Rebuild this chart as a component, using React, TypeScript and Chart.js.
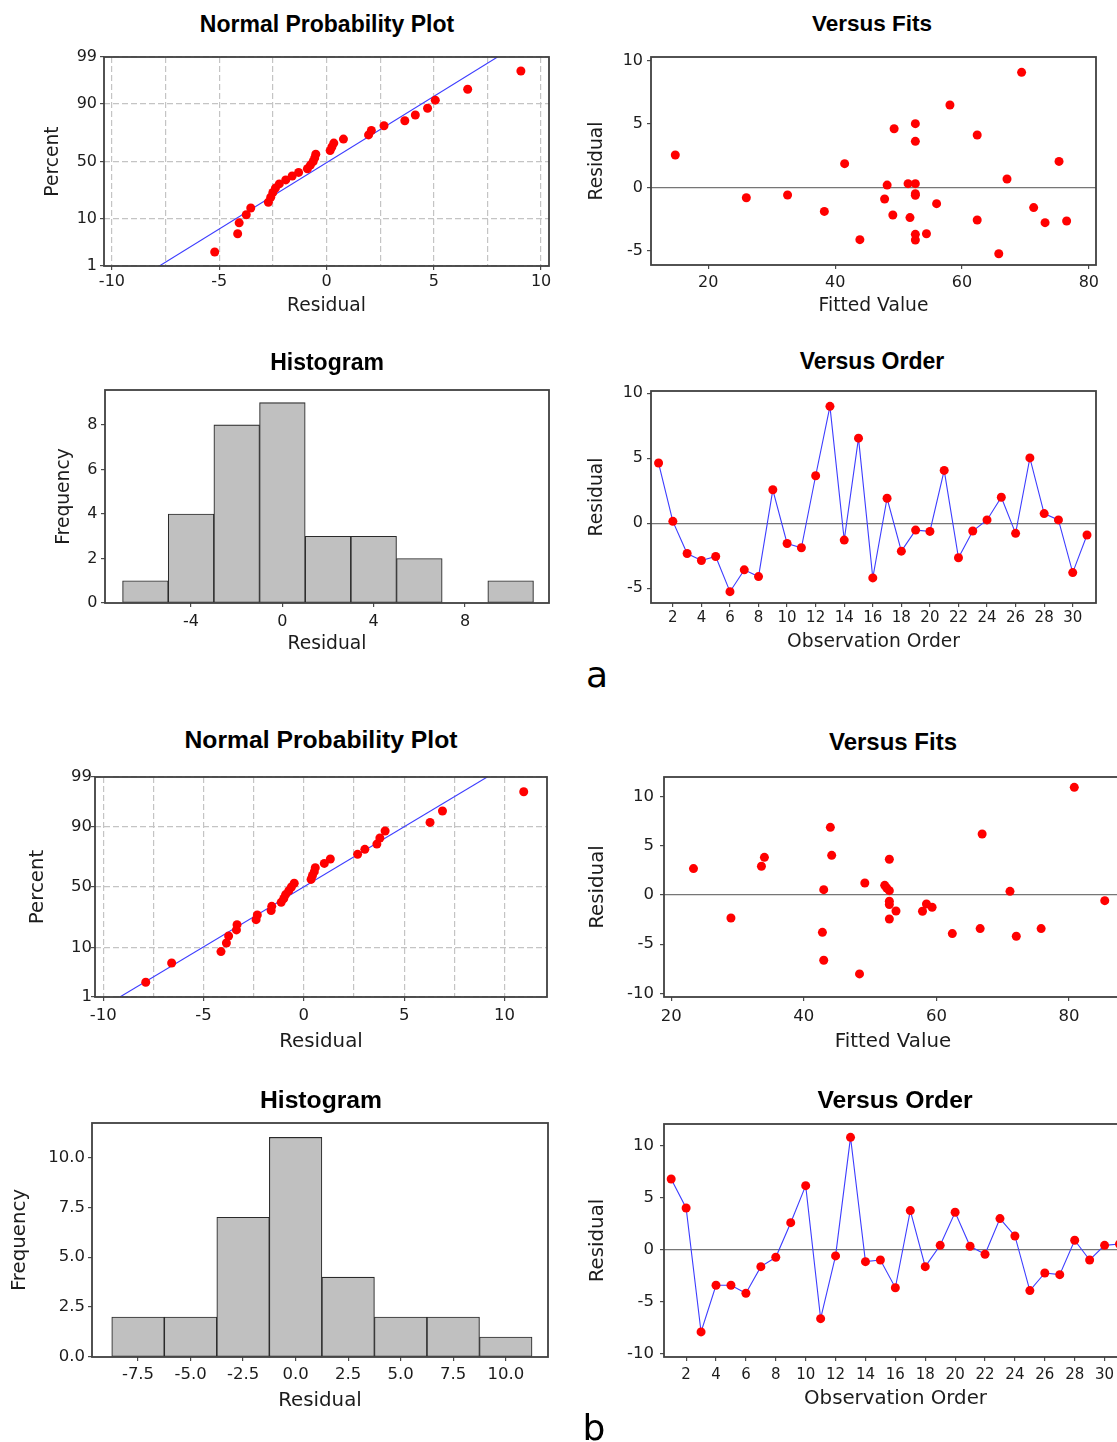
import React, { useEffect, useRef } from "react";
import { Chart, registerables } from "chart.js";

Chart.register(...registerables);

const SANS = '"DejaVu Sans", sans-serif';
const BOLD = '"Liberation Sans", Arial, sans-serif';
const TEXT = "#1c1c1c";
const TICK = "#4a4a4a";
const RED = "#ff0000";
const BLUE = "#3d3dff";
const CLEAR = "rgba(0,0,0,0)";
const DOT = 4.5;

Chart.defaults.font.family = SANS;

// ---------------- data ----------------
// normal probability plot: plotting percent of each sorted residual
const nppPercent = [2.2, 5.4, 8.6, 11.8, 15.0, 18.2, 21.3, 24.5, 27.7, 30.9, 34.1, 37.3, 40.4, 43.6, 46.8, 50.0, 53.2, 56.4, 59.6, 62.7, 65.9, 69.1, 72.3, 75.5, 78.7, 81.8, 85.0, 88.2, 91.4, 94.6, 97.8];
const nppPercentTicks = [1, 10, 50, 90, 99];
const nppResidualTicks = [-10, -7.5, -5, -2.5, 0, 2.5, 5, 7.5, 10];

const nppAResidual = [-5.21, -4.14, -4.07, -3.74, -3.53, -2.71, -2.6, -2.5, -2.38, -2.2, -1.9, -1.6, -1.3, -0.89, -0.75, -0.62, -0.55, -0.5, 0.17, 0.25, 0.34, 0.79, 1.96, 2.09, 2.68, 3.65, 4.14, 4.71, 5.07, 6.58, 9.06];
const nppAFitResidual = [-7.79, 7.97];
const nppAFitPercent = [1, 99];

const nppBResidual = [-7.88, -6.59, -4.13, -3.86, -3.75, -3.36, -3.33, -2.38, -2.32, -1.63, -1.6, -1.13, -1.0, -0.91, -0.75, -0.62, -0.48, 0.36, 0.43, 0.52, 0.57, 1.02, 1.32, 2.68, 3.04, 3.64, 3.79, 4.05, 6.29, 6.91, 10.96];
const nppBFitResidual = [-9.17, 9.14];
const nppBFitPercent = [1, 99];

// versus fits
const fitsAFitted = [14.8, 26.0, 32.5, 38.3, 41.5, 43.9, 47.8, 48.2, 49.1, 49.3, 51.5, 51.8, 52.65, 52.65, 52.65, 52.65, 52.65, 52.65, 52.65, 54.4, 56.0, 58.1, 62.4, 62.4, 65.8, 67.1, 69.4, 71.3, 73.1, 75.3, 76.5];
const fitsAResidual = [2.55, -0.82, -0.6, -1.9, 1.87, -4.13, -0.92, 0.18, -2.18, 4.63, 0.29, -2.39, 0.29, 5.03, 3.63, -0.5, -0.63, -3.71, -4.16, -3.66, -1.29, 6.5, 4.13, -2.58, -5.24, 0.66, 9.08, -1.6, -2.79, 2.05, -2.66];
const fitsBFitted = [23.35, 29.0, 33.6, 34.05, 42.8, 43.0, 43.0, 44.0, 44.2, 48.4, 49.2, 52.2, 52.5, 52.9, 52.9, 52.9, 52.9, 52.9, 53.9, 57.9, 58.5, 59.35, 62.4, 66.6, 66.9, 71.1, 72.05, 75.8, 80.8, 85.4];
const fitsBResidual = [2.68, -2.34, 2.92, 3.83, -3.8, 0.54, -6.64, 6.88, 4.03, -8.03, 1.22, 0.98, 0.71, 0.44, 3.63, -0.64, -0.98, -2.44, -1.63, -1.66, -0.92, -1.25, -3.93, -3.42, 6.2, 0.37, -4.2, -3.42, 10.95, -0.58];
const fittedTicks = [20, 40, 60, 80];
const residualTicksA = [-5, 0, 5, 10];
const residualTicksB = [-10, -5, 0, 5, 10];

// histograms
const histABinCenter = [-6, -4, -2, 0, 2, 4, 6, 8, 10];
const histACount = [1, 4, 8, 9, 3, 3, 2, 0, 1];
const histAXTicks = [-4, 0, 4, 8];
const histAYTicks = [0, 2, 4, 6, 8];
const histBBinCenter = [-7.5, -5, -2.5, 0, 2.5, 5, 7.5, 10];
const histBCount = [2, 2, 7, 11, 4, 2, 2, 1];
const histBXTicks = [-7.5, -5, -2.5, 0, 2.5, 5, 7.5, 10];
const histBYTicks = [0, 2.5, 5, 7.5, 10];

// versus order
const observationOrder = [1, 2, 3, 4, 5, 6, 7, 8, 9, 10, 11, 12, 13, 14, 15, 16, 17, 18, 19, 20, 21, 22, 23, 24, 25, 26, 27, 28, 29, 30, 31];
const orderTicks = [2, 4, 6, 8, 10, 12, 14, 16, 18, 20, 22, 24, 26, 28, 30];
const orderAResidual = [4.64, 0.15, -2.32, -2.86, -2.55, -5.26, -3.58, -4.1, 2.58, -1.55, -1.88, 3.66, 9.0, -1.29, 6.55, -4.2, 1.93, -2.14, -0.52, -0.62, 4.07, -2.65, -0.59, 0.26, 2.01, -0.77, 5.03, 0.75, 0.26, -3.79, -0.9];
const orderBResidual = [6.76, 3.97, -7.95, -3.46, -3.46, -4.23, -1.67, -0.77, 2.56, 6.12, -6.67, -0.64, 10.77, -1.19, -1.03, -3.7, 3.72, -1.67, 0.38, 3.56, 0.29, -0.48, 2.95, 1.28, -3.97, -2.28, -2.44, 0.87, -1.03, 0.38, 0.51];

// ---------------- probability scale transform ----------------
function probit(p: number): number {
  const a = [-39.69683028665376, 220.9460984245205, -275.9285104469687, 138.357751867269, -30.66479806614716, 2.506628277459239];
  const b = [-54.47609879822406, 161.5858368580409, -155.6989798598866, 66.80131188771972, -13.28068155288572];
  const c = [-0.007784894002430293, -0.3223964580411365, -2.400758277161838, -2.549732539343734, 4.374664141464968, 2.938163982698783];
  const d = [0.007784695709041462, 0.3224671290700398, 2.445134137142996, 3.754408661907416];
  const pl = 0.02425;
  if (p < pl) {
    const q = Math.sqrt(-2 * Math.log(p));
    return (((((c[0] * q + c[1]) * q + c[2]) * q + c[3]) * q + c[4]) * q + c[5]) / ((((d[0] * q + d[1]) * q + d[2]) * q + d[3]) * q + 1);
  }
  if (p <= 1 - pl) {
    const q = p - 0.5;
    const r = q * q;
    return ((((((a[0] * r + a[1]) * r + a[2]) * r + a[3]) * r + a[4]) * r + a[5]) * q) / (((((b[0] * r + b[1]) * r + b[2]) * r + b[3]) * r + b[4]) * r + 1);
  }
  const q = Math.sqrt(-2 * Math.log(1 - p));
  return -(((((c[0] * q + c[1]) * q + c[2]) * q + c[3]) * q + c[4]) * q + c[5]) / ((((d[0] * q + d[1]) * q + d[2]) * q + d[3]) * q + 1);
}

// ---------------- layout ----------------
type Geom = {
  L: number; T: number; R: number; B: number;
  yTitleX: number; xTitleY: number;
  axisFont: number; tickFont: number; xTickFont: number;
  yGap: number; xOff: number;
};
type Lay = { left: number; top: number; width: number; height: number; yW: number; xH: number; yTitlePad: number; xTitlePad: number; padR: number };

const PAD_T = 16;
function layoutOf(g: Geom): Lay {
  const lh = g.axisFont * 1.2;
  const left = Math.floor(g.yTitleX - lh / 2);
  const top = g.T - PAD_T;
  const height = Math.ceil(g.xTitleY + lh / 2 - top);
  const width = Math.ceil(g.R + 16 - left);
  return {
    left, top, width, height,
    yW: g.L - left,
    xH: top + height - g.B,
    yTitlePad: g.yTitleX - lh / 2 - left,
    xTitlePad: top + height - lh / 2 - g.xTitleY,
    padR: width - (g.R - left),
  };
}

const gA1: Geom = { L: 104, T: 57, R: 549, B: 266, yTitleX: 53.5, xTitleY: 306, axisFont: 18.7, tickFont: 16, xTickFont: 16, yGap: 7, xOff: 16 };
const gA2: Geom = { L: 651, T: 57, R: 1096, B: 265, yTitleX: 597.6, xTitleY: 306, axisFont: 18.7, tickFont: 16, xTickFont: 16, yGap: 8, xOff: 18 };
const gA3: Geom = { L: 105, T: 390, R: 549, B: 603, yTitleX: 64.5, xTitleY: 644, axisFont: 18.7, tickFont: 16, xTickFont: 16, yGap: 7.5, xOff: 19 };
const gA4: Geom = { L: 651, T: 391, R: 1096, B: 603, yTitleX: 597.6, xTitleY: 641.7, axisFont: 18.7, tickFont: 16, xTickFont: 15, yGap: 8, xOff: 15.5 };
const gB1: Geom = { L: 95, T: 777, R: 547, B: 997, yTitleX: 37.6, xTitleY: 1041.7, axisFont: 19.8, tickFont: 16.5, xTickFont: 16.5, yGap: 3, xOff: 19 };
const gB2: Geom = { L: 664, T: 777, R: 1122, B: 997, yTitleX: 598, xTitleY: 1041.5, axisFont: 19.8, tickFont: 16.5, xTickFont: 16.5, yGap: 10, xOff: 20 };
const gB3: Geom = { L: 92, T: 1123, R: 548, B: 1357, yTitleX: 19.5, xTitleY: 1401, axisFont: 19.8, tickFont: 16.5, xTickFont: 16.5, yGap: 7, xOff: 18 };
const gB4: Geom = { L: 664, T: 1124, R: 1127, B: 1357, yTitleX: 598, xTitleY: 1399, axisFont: 19.8, tickFont: 16.5, xTickFont: 15, yGap: 10, xOff: 18 };

type AxisSpec = {
  min: number; max: number; ticks: number[];
  label: (v: number, i: number) => string; title: string;
  gridColor?: (v: number) => string; dash?: number[]; tickMark?: (v: number) => boolean;
};

function gridOf(s: AxisSpec) {
  return {
    display: true, offset: false, drawTicks: true, tickLength: 4, tickWidth: 1.2, tickBorderDash: [],
    drawOnChartArea: !!s.gridColor,
    lineWidth: 1.2,
    color: (c: any) => (s.gridColor && c.tick ? s.gridColor(c.tick.value) : CLEAR),
    tickColor: (c: any) => (!c.tick || !s.tickMark || s.tickMark(c.tick.value) ? TICK : CLEAR),
  };
}

function xScale(g: Geom, lay: Lay, s: AxisSpec) {
  const tickLh = g.xTickFont * 1.2;
  return {
    type: "linear", position: "bottom", min: s.min, max: s.max, offset: false,
    afterBuildTicks: (sc: any) => { sc.ticks = s.ticks.map((v) => ({ value: v })); },
    afterFit: (sc: any) => { sc.height = lay.xH; },
    ticks: {
      autoSkip: false, maxRotation: 0, minRotation: 0,
      padding: g.xOff - 4 - tickLh / 2, color: TEXT,
      font: { family: SANS, size: g.xTickFont },
      callback: (v: any, i: number) => s.label(Number(v), i),
    },
    grid: gridOf(s),
    border: { display: false, dash: s.dash ?? [] },
    title: { display: true, text: s.title, color: TEXT, font: { family: SANS, size: g.axisFont }, padding: { top: 0, bottom: lay.xTitlePad } },
  };
}

function yScale(g: Geom, lay: Lay, s: AxisSpec) {
  return {
    type: "linear", position: "left", min: s.min, max: s.max,
    afterBuildTicks: (sc: any) => { sc.ticks = s.ticks.map((v) => ({ value: v })); },
    afterFit: (sc: any) => { sc.width = lay.yW; },
    ticks: {
      autoSkip: false, padding: g.yGap - 4, color: TEXT,
      font: { family: SANS, size: g.tickFont },
      callback: (v: any, i: number) => s.label(Number(v), i),
    },
    grid: gridOf(s),
    border: { display: false, dash: s.dash ?? [] },
    title: { display: true, text: s.title, color: TEXT, font: { family: SANS, size: g.axisFont }, padding: { top: lay.yTitlePad, bottom: 0 } },
  };
}

const framePlugin = {
  id: "frame",
  afterDraw(chart: any) {
    const { ctx, chartArea: a } = chart;
    ctx.save();
    ctx.strokeStyle = "#404040";
    ctx.lineWidth = 1.8;
    ctx.strokeRect(a.left, a.top, a.right - a.left, a.bottom - a.top);
    ctx.restore();
  },
};

function baseOptions(lay: Lay, scales: any) {
  return {
    responsive: false, maintainAspectRatio: false, animation: false, devicePixelRatio: 1, events: [],
    layout: { padding: { top: PAD_T, right: lay.padR, bottom: 0, left: 0 } },
    plugins: { legend: { display: false }, tooltip: { enabled: false }, title: { display: false } },
    scales,
  };
}

const DASH_GRID = (_v: number) => "#c4c4c4";
const ZERO_LINE = (v: number) => (Math.abs(v) < 1e-9 ? "#767676" : CLEAR);
const isMult5 = (v: number) => Math.abs(v % 5) < 1e-9;
const intLabel = (v: number) => String(v);
const fixed1 = (v: number) => v.toFixed(1);
const fiveLabel = (v: number) => (isMult5(v) ? String(v) : "");

function nppConfig(g: Geom, lay: Lay, resid: number[], pct: number[], fitX: number[], fitP: number[], xMin: number, xMax: number) {
  return {
    type: "scatter",
    data: {
      datasets: [
        { data: resid.map((x, i) => ({ x, y: probit(pct[i] / 100) })), pointRadius: DOT, pointBackgroundColor: RED, pointBorderWidth: 0, showLine: false, order: 0 },
        { data: fitX.map((x, i) => ({ x, y: probit(fitP[i] / 100) })), showLine: true, borderColor: BLUE, borderWidth: 1.1, pointRadius: 0, order: 1 },
      ],
    },
    options: baseOptions(lay, {
      x: xScale(g, lay, { min: xMin, max: xMax, ticks: nppResidualTicks, label: fiveLabel, title: "Residual", gridColor: DASH_GRID, dash: [6, 3], tickMark: isMult5 }),
      y: yScale(g, lay, {
        min: probit(0.01), max: probit(0.99), ticks: nppPercentTicks.map((p) => probit(p / 100)),
        label: (_v, i) => String(nppPercentTicks[i]), title: "Percent", gridColor: DASH_GRID, dash: [6, 3],
      }),
    }),
    plugins: [framePlugin],
  };
}

function fitsConfig(g: Geom, lay: Lay, fx: number[], fy: number[], xr: [number, number], yr: [number, number], yTicks: number[]) {
  return {
    type: "scatter",
    data: { datasets: [{ data: fx.map((x, i) => ({ x, y: fy[i] })), pointRadius: DOT, pointBackgroundColor: RED, pointBorderWidth: 0, showLine: false }] },
    options: baseOptions(lay, {
      x: xScale(g, lay, { min: xr[0], max: xr[1], ticks: fittedTicks, label: intLabel, title: "Fitted Value" }),
      y: yScale(g, lay, { min: yr[0], max: yr[1], ticks: yTicks, label: intLabel, title: "Residual", gridColor: ZERO_LINE }),
    }),
    plugins: [framePlugin],
  };
}

function histConfig(g: Geom, lay: Lay, centers: number[], counts: number[], xr: [number, number], yMax: number, xTicks: number[], yTicks: number[], fmt: (v: number) => string) {
  return {
    type: "bar",
    data: {
      datasets: [{
        data: centers.map((x, i) => ({ x, y: counts[i] })),
        backgroundColor: "#c0c0c0", borderColor: "#2a2a2a", borderWidth: 1.1, borderSkipped: false,
        barPercentage: 1, categoryPercentage: 1,
      }],
    },
    options: baseOptions(lay, {
      x: xScale(g, lay, { min: xr[0], max: xr[1], ticks: xTicks, label: fmt, title: "Residual" }),
      y: yScale(g, lay, { min: 0, max: yMax, ticks: yTicks, label: fmt, title: "Frequency" }),
    }),
    plugins: [framePlugin],
  };
}

function orderConfig(g: Geom, lay: Lay, resid: number[], xr: [number, number], yr: [number, number], yTicks: number[]) {
  return {
    type: "scatter",
    data: {
      datasets: [{
        data: observationOrder.map((x, i) => ({ x, y: resid[i] })),
        showLine: true, borderColor: BLUE, borderWidth: 1.1, tension: 0,
        pointRadius: DOT, pointBackgroundColor: RED, pointBorderWidth: 0,
      }],
    },
    options: baseOptions(lay, {
      x: xScale(g, lay, { min: xr[0], max: xr[1], ticks: orderTicks, label: intLabel, title: "Observation Order" }),
      y: yScale(g, lay, { min: yr[0], max: yr[1], ticks: yTicks, label: intLabel, title: "Residual", gridColor: ZERO_LINE }),
    }),
    plugins: [framePlugin],
  };
}

function Panel({ g, make }: { g: Geom; make: (lay: Lay) => any }) {
  const ref = useRef<HTMLCanvasElement>(null);
  const lay = layoutOf(g);
  useEffect(() => {
    const chart = new Chart(ref.current as HTMLCanvasElement, make(lay));
    return () => chart.destroy();
  }, []);
  return (
    <canvas
      ref={ref}
      width={lay.width}
      height={lay.height}
      style={{ position: "absolute", left: lay.left, top: lay.top, width: lay.width, height: lay.height }}
    />
  );
}

const panelTitles = [
  { text: "Normal Probability Plot", x: 327, base: 32, size: 23 },
  { text: "Versus Fits", x: 872, base: 31.7, size: 22.5 },
  { text: "Histogram", x: 327, base: 370, size: 23 },
  { text: "Versus Order", x: 872, base: 369.3, size: 23 },
  { text: "Normal Probability Plot", x: 321, base: 749, size: 24.7 },
  { text: "Versus Fits", x: 893, base: 750, size: 24 },
  { text: "Histogram", x: 321, base: 1109.3, size: 24.7 },
  { text: "Versus Order", x: 895, base: 1109.3, size: 24.7 },
];
const figureLetters = [
  { text: "a", x: 597, base: 687, size: 36 },
  { text: "b", x: 594, base: 1440, size: 36 },
];

export default function App() {
  return (
    <div style={{ position: "absolute", left: 0, top: 0, width: 1117, height: 1442, overflow: "hidden", background: "#ffffff" }}>
      <Panel g={gA1} make={(lay) => nppConfig(gA1, lay, nppAResidual, nppPercent, nppAFitResidual, nppAFitPercent, -10.37, 10.37)} />
      <Panel g={gA2} make={(lay) => fitsConfig(gA2, lay, fitsAFitted, fitsAResidual, [10.97, 81.13], [-6.13, 10.29], residualTicksA)} />
      <Panel g={gA3} make={(lay) => histConfig(gA3, lay, histABinCenter, histACount, [-7.77, 11.68], 9.57, histAXTicks, histAYTicks, intLabel)} />
      <Panel g={gA4} make={(lay) => orderConfig(gA4, lay, orderAResidual, [0.47, 31.63], [-6.13, 10.18], residualTicksA)} />
      <Panel g={gB1} make={(lay) => nppConfig(gB1, lay, nppBResidual, nppPercent, nppBFitResidual, nppBFitPercent, -10.41, 12.12)} />
      <Panel g={gB2} make={(lay) => fitsConfig(gB2, lay, fitsBFitted, fitsBResidual, [18.9, 88.0], [-10.38, 12.0], residualTicksB)} />
      <Panel g={gB3} make={(lay) => histConfig(gB3, lay, histBBinCenter, histBCount, [-9.69, 12.01], 11.72, histBXTicks, histBYTicks, fixed1)} />
      <Panel g={gB4} make={(lay) => orderConfig(gB4, lay, orderBResidual, [0.52, 31.5], [-10.36, 12.05], residualTicksB)} />
      {panelTitles.map((t, i) => (
        <div
          key={"t" + i}
          style={{
            position: "absolute", left: t.x, top: t.base - 0.8465 * t.size, transform: "translateX(-50%)",
            fontFamily: BOLD, fontWeight: 700, fontSize: t.size, lineHeight: `${t.size}px`, whiteSpace: "nowrap", color: "#000",
          }}
        >
          {t.text}
        </div>
      ))}
      {figureLetters.map((t, i) => (
        <div
          key={"l" + i}
          style={{
            position: "absolute", left: t.x, top: t.base - 0.846 * t.size, transform: "translateX(-50%)",
            fontFamily: SANS, fontSize: t.size, lineHeight: `${t.size}px`, whiteSpace: "nowrap", color: "#000",
          }}
        >
          {t.text}
        </div>
      ))}
    </div>
  );
}
